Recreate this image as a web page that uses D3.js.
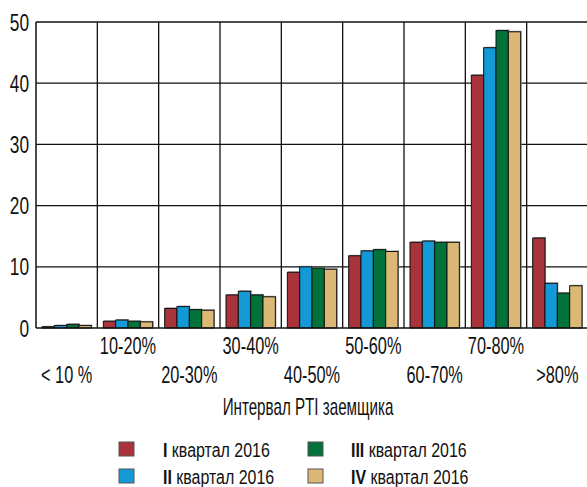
<!DOCTYPE html>
<html>
<head>
<meta charset="utf-8">
<script src="https://cdn.jsdelivr.net/npm/d3@7/dist/d3.min.js"></script>
<style>
  html, body { margin: 0; padding: 0; background: #fff; }
  svg { display: block; }
  text { font-family: "Liberation Sans", Arial, sans-serif; fill: #111; }
</style>
</head>
<body>
<svg id="chart" width="587" height="487"></svg>
<script>
// PTI intervals of borrowers
const categories = ["< 10 %", "10-20%", "20-30%", "30-40%", "40-50%", "50-60%", "60-70%", "70-80%", ">80%"];
// Quarters of 2016
const seriesNames = ["I", "II", "III", "IV"];
const seriesColors = ["#a8333a", "#1399d6", "#00723a", "#dcb877"];
// Share of loans, %, per interval
const q1 = [0.2, 1.1, 3.2, 5.4, 9.1, 11.8, 14.0, 41.3, 14.7];
const q2 = [0.4, 1.3, 3.5, 6.0, 10.0, 12.6, 14.2, 45.8, 7.3];
const q3 = [0.6, 1.1, 3.0, 5.4, 9.8, 12.8, 14.0, 48.6, 5.7];
const q4 = [0.4, 1.0, 2.9, 5.1, 9.6, 12.5, 14.0, 48.4, 6.9];
const yTicks = [0, 10, 20, 30, 40, 50];
const axisTitle = "Интервал PTI заемщика";
const legendSuffix = " квартал 2016";

const seriesValues = [q1, q2, q3, q4];

const svg = d3.select("#chart");
const plot = { left: 36, right: 588, top: 22, bottom: 328 };

const x = d3.scaleBand().domain(categories).range([plot.left, plot.right]).paddingInner(0).paddingOuter(0);
const xInner = d3.scaleBand().domain(seriesNames).range([6, x.bandwidth() - 6]).padding(0);
const y = d3.scaleLinear().domain([0, 50]).range([plot.bottom, plot.top]);

svg.append("rect").attr("width", 587).attr("height", 487).attr("fill", "#fff");

// horizontal grid
svg.append("g").selectAll("line").data(yTicks.filter(d => d > 0)).join("line")
  .attr("x1", plot.left).attr("x2", plot.right)
  .attr("y1", d => y(d)).attr("y2", d => y(d))
  .attr("stroke", "#111").attr("stroke-width", 1.3);

// vertical grid at interval boundaries
svg.append("g").selectAll("line").data(categories.slice(1)).join("line")
  .attr("x1", d => x(d)).attr("x2", d => x(d))
  .attr("y1", plot.top).attr("y2", plot.bottom)
  .attr("stroke", "#111").attr("stroke-width", 1.3);

// bars
const groups = svg.append("g").selectAll("g").data(categories).join("g")
  .attr("transform", d => `translate(${x(d)},0)`);

const barData = (c, i) => seriesNames.map((s, k) => ({ s, k, v: seriesValues[k][i] }));

// soft shadow behind each bar
groups.selectAll("rect.shadow").data(barData).join("rect")
  .attr("class", "shadow")
  .attr("x", d => xInner(d.s) + 1)
  .attr("y", d => y(d.v) - 1)
  .attr("width", xInner.bandwidth())
  .attr("height", d => y(0) - y(d.v))
  .attr("fill", "#9a9a9a");

groups.selectAll("rect.bar").data(barData).join("rect")
  .attr("class", "bar")
  .attr("x", d => xInner(d.s))
  .attr("y", d => y(d.v))
  .attr("width", xInner.bandwidth())
  .attr("height", d => y(0) - y(d.v))
  .attr("fill", d => seriesColors[d.k])
  .attr("stroke", "#111").attr("stroke-width", 1);

// axes lines
svg.append("line").attr("x1", plot.left).attr("x2", plot.left)
  .attr("y1", plot.top).attr("y2", plot.bottom).attr("stroke", "#111").attr("stroke-width", 1.5);
svg.append("line").attr("x1", plot.left).attr("x2", plot.right)
  .attr("y1", plot.bottom).attr("y2", plot.bottom).attr("stroke", "#111").attr("stroke-width", 1.5);

// y tick labels (horizontally squeezed for a condensed look)
svg.append("g").selectAll("text").data(yTicks).join("text")
  .attr("transform", d => `translate(29,${y(d)}) scale(0.72,1)`)
  .attr("text-anchor", "end")
  .attr("dy", "0.36em")
  .attr("font-size", 24)
  .text(d => d);

// x category labels in two staggered rows, centred on their bands
svg.append("g").selectAll("text").data(categories).join("text")
  .attr("transform", (d, i) => `translate(${x(d) + x.bandwidth() / 2},${i % 2 === 1 ? 354 : 383}) scale(0.71,1)`)
  .attr("text-anchor", "middle")
  .attr("font-size", 23)
  .text(d => d);

// axis title
svg.append("text")
  .attr("transform", `translate(308,415) scale(0.66,1)`)
  .attr("text-anchor", "middle")
  .attr("font-size", 23)
  .text(axisTitle);

// legend
const legendPos = [[119, 442], [119, 469], [308, 442], [308, 469]];
const legend = svg.append("g").selectAll("g").data(seriesNames).join("g")
  .attr("transform", (d, i) => `translate(${legendPos[i][0]},${legendPos[i][1]})`);
legend.append("rect")
  .attr("width", 15).attr("height", 14)
  .attr("fill", (d, i) => seriesColors[i])
  .attr("stroke", "#555").attr("stroke-width", 1);
const lt = legend.append("text")
  .attr("transform", (d, i) => `translate(${i < 2 ? 44 : 43},14.5) scale(0.76,1)`)
  .attr("font-size", 21);
lt.append("tspan").attr("font-weight", "bold").text(d => d);
lt.append("tspan").text(legendSuffix);
</script>
</body>
</html>
